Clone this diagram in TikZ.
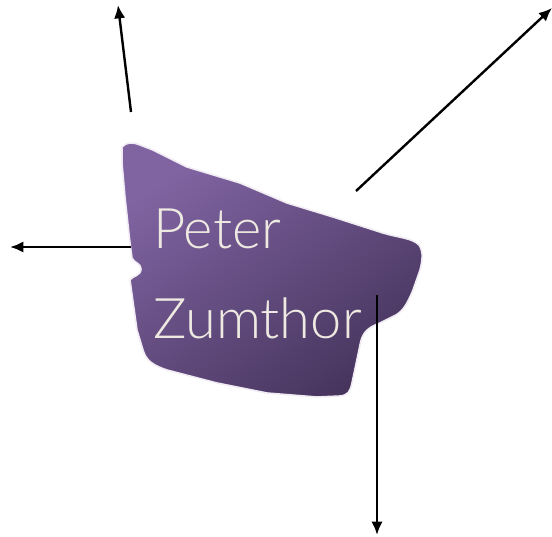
\documentclass[tikz,border=0pt]{standalone}
\usepackage{fontspec}
\newfontfamily\namefont{Lato Light}
\usetikzlibrary{arrows.meta}
\definecolor{blobtop}{HTML}{8064A2}
\definecolor{blobbottom}{HTML}{47355E}
\definecolor{blobrim}{HTML}{F1ECF4}
\definecolor{namecolor}{HTML}{EEEAE2}
\tikzset{
    pointer/.style={line width=1.8pt, -{Latex[length=10pt,width=8.5pt]}},
    namelabel/.style={anchor=base west, inner sep=0pt, text=namecolor, font=\namefont\fontsize{42}{48}\selectfont}
}
\begin{document}
\begin{tikzpicture}[x=0.75pt,y=0.75pt,yscale=-1,xscale=1]
    \useasboundingbox (0,0) rectangle (552,536);

    %Shape: Blob
    \shadedraw[draw=blobrim, line width=1.2pt, left color=blobbottom, right color=blobtop, shading angle=215]
        (122,147) .. controls (126,142) and (133,142) .. (140,145)
        -- (153,150) -- (187,167) -- (240,183) -- (287,203) -- (333,217) -- (383,233)
        .. controls (400,238) and (412,238) .. (419,245)
        .. controls (424,252) and (422,262) .. (420,270)
        -- (413,290) .. controls (408,302) and (404,310) .. (396,315)
        -- (380,323) .. controls (366,328) and (362,334) .. (360,345)
        -- (352,383) .. controls (350,392) and (348,395) .. (340,396)
        -- (317,397) -- (267,393) -- (217,383) -- (167,370)
        .. controls (152,365) and (146,360) .. (143,350)
        -- (137,330) -- (130,280)
        .. controls (132,276) and (141,276) .. (141,269)
        .. controls (141,263) and (134,263) .. (132,258)
        -- (130,243) -- (125,197) -- (122,163) -- cycle;

    % Text Node
    \node[namelabel] (first) at (153,248) {Peter};
    % Text Node
    \node[namelabel] (last) at (153,338) {Zumthor};

    % Connector ends
    \coordinate (topfrom) at (131,112);
    \coordinate (topto) at (118,5);
    \coordinate (leftfrom) at (131,247);
    \coordinate (leftto) at (10,247);
    \coordinate (rightfrom) at (356,191);
    \coordinate (rightto) at (552,8);
    \coordinate (downfrom) at (377,295);
    \coordinate (downto) at (377,535);

    \draw[pointer] (topfrom) -- (topto);
    \draw[pointer] (leftfrom) -- (leftto);
    \draw[pointer] (rightfrom) -- (rightto);
    \draw[pointer] (downfrom) -- (downto);
\end{tikzpicture}
\end{document}
